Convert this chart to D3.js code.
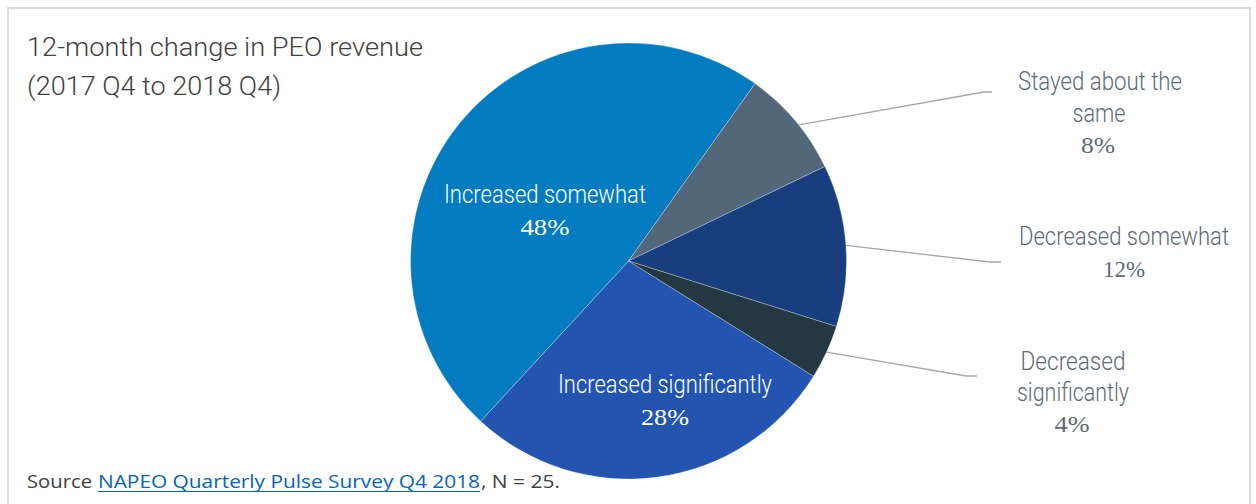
<!DOCTYPE html>
<html><head><meta charset="utf-8">
<script src="https://cdn.jsdelivr.net/npm/d3@7"></script>
<style>html,body{margin:0;padding:0;background:#fff;overflow:hidden}</style>
</head><body><svg id="c" width="1256" height="504"></svg>
<script>
const categories = ["Increased significantly","Increased somewhat","Stayed about the same","Decreased somewhat","Decreased significantly"];
const values = [28, 48, 8, 12, 4];
const colors = ["#2355b0","#027bc1","#52677a","#183e7d","#243841"];
const titleLines = ["12-month change in PEO revenue","(2017 Q4 to 2018 Q4)"];

const svg = d3.select("#c");
const narrow = "Roboto,'Liberation Sans',sans-serif";
const serif = "'Liberation Serif','DejaVu Serif',serif";

// frame
svg.append("rect").attr("x",8).attr("y",8).attr("width",1242).attr("height",520)
  .attr("fill","#fff").attr("stroke","#d9d9d9").attr("stroke-width",2);

function txt(s, x, y, size, fam, fill, len, anchor, weight){
  const t = svg.append("text").attr("x",x).attr("y",y).attr("font-family",fam)
    .attr("font-size",size).attr("fill",fill).attr("text-anchor",anchor||"start")
    .attr("font-weight",weight||400).text(s);
  if(len){ t.attr("textLength",len).attr("lengthAdjust","spacingAndGlyphs"); }
  return t;
}

// title
txt(titleLines[0], 27, 56, 25, narrow, "#404040", 396, "start", 300);
txt(titleLines[1], 27, 95, 25, narrow, "#404040", 254, "start", 300);

// pie
const cx = 628.5, cy = 261, R = 218;
const pie = d3.pie().sort(null).startAngle(121.9*Math.PI/180).endAngle(121.9*Math.PI/180 + 2*Math.PI);
const arcs = pie(values);
const arc = d3.arc().innerRadius(0).outerRadius(R);
const g = svg.append("g").attr("transform",`translate(${cx},${cy})`);
g.selectAll("path").data(arcs).join("path")
  .attr("d",arc).attr("fill",(d,i)=>colors[i])
  .attr("stroke","#ffffff").attr("stroke-opacity",0.35).attr("stroke-width",0.8);

// leader lines for outside labels
const leaderColor = "#a6a6a6";
function edgePoint(i, frac){
  const a = arcs[i].startAngle + (arcs[i].endAngle-arcs[i].startAngle)*frac;
  return [cx + R*Math.sin(a), cy - R*Math.cos(a)];
}
const leaders = [
  {i:2, frac:0.55, knee:[984,92], end:[992,92]},
  {i:3, frac:0.5, knee:[990,262], end:[1001,262]},
  {i:4, frac:0.5, knee:[966,376], end:[977,376]}
];
leaders.forEach(l=>{
  const p = edgePoint(l.i, l.frac);
  svg.append("polyline").attr("points",[p,l.knee,l.end].map(q=>q.join(",")).join(" "))
    .attr("fill","none").attr("stroke",leaderColor).attr("stroke-width",1.3);
});

// inside labels
const lab = "#5a6b78";
txt("Increased somewhat", 545, 203, 25, narrow, "#fff", 202, "middle", 300);
txt(values[1]+"%", 545, 235, 24, serif, "#fff", 49, "middle");
txt("Increased significantly", 665, 393, 25, narrow, "#fff", 214, "middle", 300);
txt(values[0]+"%", 665, 425, 24, serif, "#fff", 48, "middle");

// outside labels
txt("Stayed about the", 1100, 90, 25, narrow, lab, 164, "middle", 300);
txt("same", 1099, 122, 25, narrow, lab, 53, "middle", 300);
txt(values[2]+"%", 1098, 153, 24, serif, lab, 34, "middle");

txt("Decreased somewhat", 1124, 245, 25, narrow, lab, 210, "middle", 300);
txt(values[3]+"%", 1124, 277, 24, serif, lab, 42, "middle");

txt("Decreased", 1073, 370, 25, narrow, lab, 105, "middle", 300);
txt("significantly", 1073, 401, 25, narrow, lab, 112, "middle", 300);
txt(values[4]+"%", 1072, 432, 24, serif, lab, 35, "middle");

// source
const sf = "'Open Sans','Lato','Liberation Sans',sans-serif";
txt("Source", 27, 488, 18, sf, "#404040", 65);
txt("NAPEO Quarterly Pulse Survey Q4 2018", 98, 488, 18, sf, "#0563c1", 382);
svg.append("line").attr("x1",98).attr("x2",480).attr("y1",491.5).attr("y2",491.5)
  .attr("stroke","#0563c1").attr("stroke-width",1.2);
txt(", N = 25.", 481, 488, 18, sf, "#404040", 79);
</script></body></html>
